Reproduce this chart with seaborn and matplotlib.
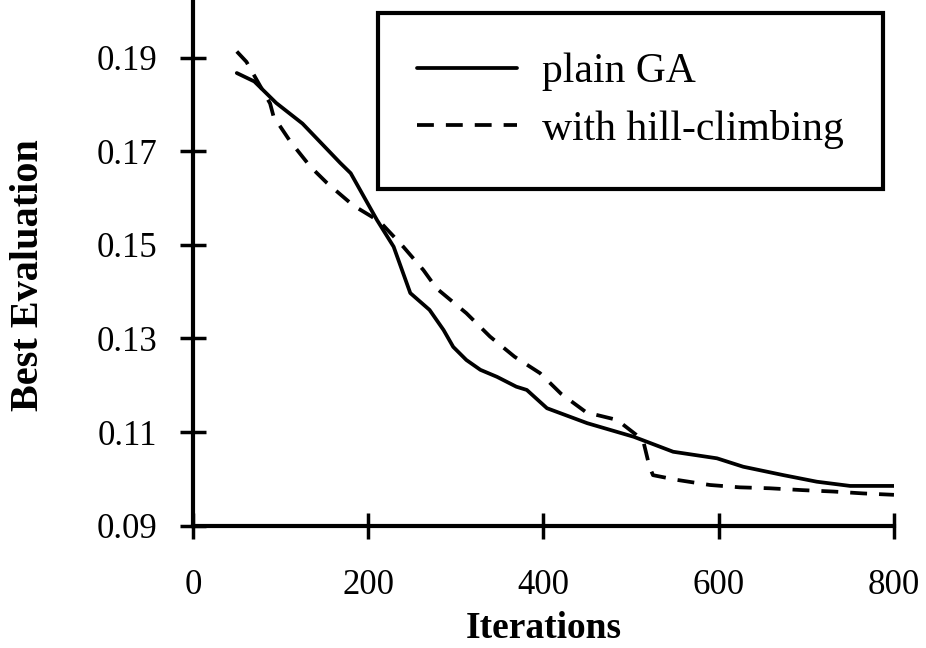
import numpy as np
import pandas as pd
import matplotlib
matplotlib.use("Agg")
import matplotlib.pyplot as plt
import seaborn as sns

# data
ga_iter = [50, 70, 95, 125, 168, 180, 210, 229, 248, 270, 286, 297, 312, 328,
           347, 369, 381, 404, 450, 503, 548, 598, 628, 674, 712, 750, 800]
ga_best = [0.1867, 0.1849, 0.1803, 0.1759, 0.1675, 0.1653, 0.1553, 0.1496,
           0.1397, 0.1361, 0.1318, 0.1282, 0.1254, 0.1233, 0.1218, 0.1197,
           0.1190, 0.1151, 0.1119, 0.1090, 0.1058, 0.1044, 0.1026, 0.1008,
           0.0994, 0.0985, 0.0985]

hc_iter = [50, 61, 88, 92, 111, 134, 153, 183, 213, 240, 263, 278, 312, 339,
           367, 396, 420, 449, 484, 506, 514, 521, 525, 552, 590, 624, 658,
           696, 731, 765, 800]
hc_best = [0.1913, 0.1891, 0.1802, 0.1774, 0.1721, 0.1667, 0.1632, 0.1584,
           0.1550, 0.1496, 0.1446, 0.1407, 0.1354, 0.1304, 0.1261, 0.1226,
           0.1182, 0.1142, 0.1126, 0.1094, 0.1080, 0.1026, 0.1008, 0.0998,
           0.0987, 0.0982, 0.0980, 0.0976, 0.0973, 0.0969, 0.0966]

x_ticks = [0, 200, 400, 600, 800]
y_ticks = [0.09, 0.11, 0.13, 0.15, 0.17, 0.19]

ga = pd.DataFrame({"Iterations": ga_iter, "Best": ga_best})
hc = pd.DataFrame({"Iterations": hc_iter, "Best": hc_best})

sns.set_theme(style="white")
plt.rcParams["font.family"] = ["Liberation Serif", "DejaVu Serif"]
plt.rcParams["text.color"] = "black"
plt.rcParams["axes.labelcolor"] = "black"

fig = plt.figure(figsize=(9.26, 6.48), dpi=100)
ax = fig.add_axes([0.2084, 0.1887, 0.757, 0.8113])

sns.lineplot(data=ga, x="Iterations", y="Best", ax=ax, color="black",
             linewidth=2.7, label="plain GA")
sns.lineplot(data=hc, x="Iterations", y="Best", ax=ax, color="black",
             linewidth=2.7, label="with hill-climbing")
ax.lines[1].set_dashes([4.5, 3.2])

ax.set_xlim(0, 800)
ax.set_ylim(0.09, 0.2023)
ax.set_xticks(x_ticks)
ax.set_yticks(y_ticks)
ax.set_yticklabels([f"{v:.2f}" for v in y_ticks])
ax.tick_params(bottom=True, left=True, direction="inout", length=19,
               width=2.5, colors="black", labelsize=25)
ax.tick_params(axis="y", pad=16)
ax.tick_params(axis="x", pad=22)

for side in ["top", "right"]:
    ax.spines[side].set_visible(False)
for side in ["left", "bottom"]:
    ax.spines[side].set_linewidth(3)
    ax.spines[side].set_color("black")

ax.set_xlabel("Iterations", fontsize=27, fontweight="bold", labelpad=6)
ax.set_ylabel("Best Evaluation", fontsize=29, fontweight="bold")
ax.yaxis.set_label_coords(-0.208, 0.477)

leg = ax.legend(loc="upper right", bbox_to_anchor=(0.985, 0.975),
                fontsize=30, frameon=True, fancybox=False, framealpha=1,
                handlelength=2.4, handletextpad=0.6, borderpad=0.95,
                labelspacing=0.45, borderaxespad=0)
leg.get_frame().set_edgecolor("black")
leg.get_frame().set_linewidth(3)

fig.savefig("out.png", dpi=100, facecolor="white")
